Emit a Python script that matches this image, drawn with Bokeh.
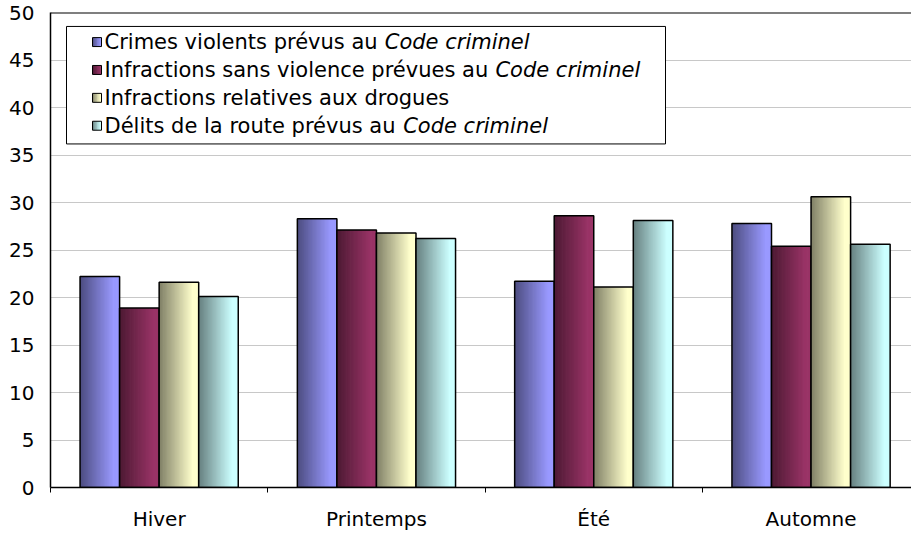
from bokeh.plotting import figure
from bokeh.models import Range1d, FixedTicker, Span
from bokeh.core.properties import value
from bokeh.embed import file_html
from bokeh.resources import INLINE

# ---------------- data ----------------
categories = ["Hiver", "Printemps", "Été", "Automne"]
crimes_violents = [22.2, 28.3, 21.7, 27.8]
sans_violence = [18.9, 27.1, 28.6, 25.4]
drogues = [21.6, 26.8, 21.1, 30.6]
route = [20.1, 26.2, 28.1, 25.6]
y_ticks = [0, 5, 10, 15, 20, 25, 30, 35, 40, 45, 50]

legend_plain = ["Crimes violents prévus au ",
                "Infractions sans violence prévues au ",
                "Infractions relatives aux drogues",
                "Délits de la route prévus au "]
legend_italic = ["Code criminel", "Code criminel", "", "Code criminel"]

series = [crimes_violents, sans_violence, drogues, route]
# (base colour, dark colour) of each series' horizontal gradient
colors = [((153, 153, 255), (77, 77, 128)),
          ((153, 51, 102), (77, 26, 51)),
          ((255, 255, 204), (128, 128, 102)),
          ((204, 255, 255), (102, 128, 128))]

# ---------------- layout ----------------
W, H = 911, 533
ML, MT, MB, MR = 50, 12, 44, 0
CAT_PX = 217.3
frame_w = W - ML - MR
frame_h = H - MT - MB
x_end = frame_w / CAT_PX
FONT = "DejaVu Sans"

def fx(px):
    return (px - ML) / CAT_PX

def fy(py):
    return (H - MB - py) / frame_h * 50.0

def grad(c, t):
    base, dark = c
    t = min(1.0, t / 0.85)
    r, g, b = (int(round(d + (bb - d) * t)) for d, bb in zip(dark, base))
    return "#%02x%02x%02x" % (r, g, b)

p = figure(width=W, height=H, output_backend="svg", toolbar_location=None,
           x_range=Range1d(0, x_end), y_range=Range1d(0, 50),
           min_border_left=ML, min_border_top=MT, min_border_bottom=MB,
           min_border_right=MR)
p.outline_line_color = None
p.background_fill_color = "white"
p.border_fill_color = "white"

# grid
p.xgrid.visible = False
p.ygrid.ticker = FixedTicker(ticks=y_ticks)
p.ygrid.grid_line_color = "#c8c8c8"
p.ygrid.grid_line_width = 1

# y axis
p.yaxis.ticker = FixedTicker(ticks=y_ticks)
p.yaxis.major_tick_out = 0
p.yaxis.major_tick_in = 0
p.yaxis.minor_tick_out = 0
p.yaxis.minor_tick_in = 0
p.yaxis.major_label_standoff = 16
p.yaxis.major_label_text_font = FONT
p.yaxis.major_label_text_font_size = "20px"
p.yaxis.major_label_text_color = "black"
p.yaxis.axis_line_color = "black"
p.yaxis.axis_line_width = 1.5

# x axis
centers = [i + 0.5 for i in range(len(categories))]
bounds = [float(i) for i in range(len(categories))]
p.xaxis.ticker = FixedTicker(ticks=centers, minor_ticks=bounds)
p.xaxis.major_label_overrides = {c: lab for c, lab in zip(centers, categories)}
p.xaxis.major_tick_out = 0
p.xaxis.major_tick_in = 0
p.xaxis.minor_tick_out = 5
p.xaxis.minor_tick_in = 0
p.xaxis.minor_tick_line_color = "black"
p.xaxis.minor_tick_line_width = 1
p.xaxis.major_label_standoff = 14
p.xaxis.major_label_text_font = FONT
p.xaxis.major_label_text_font_size = "20px"
p.xaxis.major_label_text_color = "black"
p.xaxis.axis_line_color = "black"
p.xaxis.axis_line_width = 1.5

p.add_layout(Span(location=50, dimension="width", line_color="black", line_width=2))

# ---------------- bars with gradient ----------------
BW = 0.182
N = 30
ns = len(series)
for si, vals in enumerate(series):
    L, R, T, B, C = [], [], [], [], []
    xs = []
    for ci, v in enumerate(vals):
        xc = centers[ci] + (si - (ns - 1) / 2.0) * BW
        x0 = xc - BW / 2
        xs.append(xc)
        dw = BW / N
        for k in range(N):
            l = x0 + k * dw
            r = min(x0 + BW, l + dw * 1.6)
            L.append(l); R.append(r); T.append(v); B.append(0)
            C.append(grad(colors[si], (k + 0.5) / N))
    p.quad(left=L, right=R, top=T, bottom=B, fill_color=C, line_color=None)
    p.vbar(x=xs, width=BW, top=vals, bottom=0, fill_color=None,
           line_color="black", line_width=1.5)

# ---------------- legend (manual, for italic parts) ----------------
p.quad(left=[fx(66)], right=[fx(665)], top=[fy(26)], bottom=[fy(144)],
       fill_color="white", line_color="black", line_width=1)

CW = {" ": 0.318, "C": 0.698, "I": 0.295, "D": 0.770, "a": 0.613, "c": 0.550,
      "d": 0.635, "e": 0.615, "é": 0.615, "f": 0.352, "i": 0.278, "l": 0.278,
      "m": 0.974, "n": 0.634, "o": 0.612, "p": 0.635, "r": 0.411, "s": 0.521,
      "t": 0.392, "u": 0.634, "v": 0.592, "x": 0.592, "g": 0.635}
LFS = 21
row_y = [41.7, 69.7, 97.7, 125.7]
SQ = 9
for i, (plain, ital) in enumerate(zip(legend_plain, legend_italic)):
    yc = row_y[i]
    M = 6
    sl, sr, st, sb, sc = [], [], [], [], []
    for k in range(M):
        l = fx(92 + k * SQ / M)
        r = fx(92 + min(SQ, (k + 1.6) * SQ / M))
        sl.append(l); sr.append(r); st.append(fy(yc - SQ / 2)); sb.append(fy(yc + SQ / 2))
        sc.append(grad(colors[i], (k + 0.5) / M))
    p.quad(left=sl, right=sr, top=st, bottom=sb, fill_color=sc, line_color=None)
    p.quad(left=[fx(92)], right=[fx(92 + SQ)], top=[fy(yc - SQ / 2)], bottom=[fy(yc + SQ / 2)],
           fill_color=None, line_color="black", line_width=1)
    p.text(x=[fx(104)], y=[fy(yc)], text=[plain], text_font=value(FONT),
           text_font_size="%dpx" % LFS, text_baseline="middle", text_align="left",
           text_color="black")
    if ital:
        wpx = sum(CW.get(ch, 0.6) for ch in plain) * LFS
        p.text(x=[fx(104 + wpx)], y=[fy(yc)], text=[ital], text_font=value(FONT),
               text_font_size="%dpx" % LFS, text_font_style="italic",
               text_baseline="middle", text_align="left", text_color="black")

open("out.html", "w").write(file_html(p, INLINE))
